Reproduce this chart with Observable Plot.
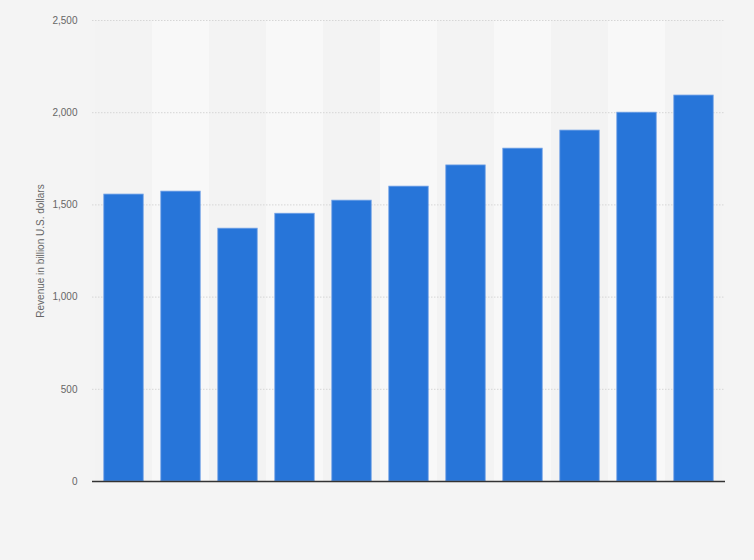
<!DOCTYPE html>
<html>
<head>
<meta charset="utf-8">
<script src="https://cdn.jsdelivr.net/npm/d3@7"></script>
<script src="https://cdn.jsdelivr.net/npm/@observablehq/plot@0.6"></script>
<style>
  html, body { margin: 0; padding: 0; background: #f4f4f4; }
  #chart { width: 754px; height: 560px; }
</style>
</head>
<body>
<div id="chart"></div>
<script>
// Categories (x-axis labels are not shown in the reference)
const categories = ["1", "2", "3", "4", "5", "6", "7", "8", "9", "10", "11"];
// Revenue in billion U.S. dollars
const revenue = [1556, 1572, 1371, 1452, 1523, 1599, 1714, 1805, 1903, 2000, 2093];
// Y-axis ticks
const yTicks = [0, 500, 1000, 1500, 2000, 2500];

const data = categories.map((c, i) => ({ cat: c, value: revenue[i], band: i % 2 }));

const chart = Plot.plot({
  width: 754,
  height: 560,
  marginLeft: 92,
  marginRight: 29,
  marginTop: 20,
  marginBottom: 79,
  style: { background: "#f4f4f4", fontFamily: "'Liberation Sans', Arial, sans-serif" },
  x: { domain: categories, padding: 0, axis: null },
  y: { domain: [0, 2500], ticks: yTicks },
  marks: [
    Plot.barY(data, {
      x: "cat", y1: 0, y2: 2500,
      fill: d => d.band ? "#f8f8f8" : "#f3f3f3"
    }),
    Plot.ruleY(yTicks.filter(t => t > 0), {
      stroke: "#d6d6d6", strokeWidth: 1, strokeDasharray: "1.5,1.5"
    }),
    Plot.barY(data, {
      x: "cat", y: "value",
      fill: "#2775d9",
      stroke: "#6fa0e6", strokeWidth: 0.8,
      insetLeft: 8.8, insetRight: 8.8
    }),
    Plot.ruleY([0], { stroke: "#333333", strokeWidth: 1.5 }),
    Plot.axisY({
      ticks: yTicks,
      tickSize: 0,
      tickPadding: 15,
      tickFormat: d3.format(","),
      fontSize: 10,
      fill: "#666666",
      label: "Revenue in billion U.S. dollars",
      labelAnchor: "center",
      labelArrow: "none",
      labelOffset: 56
    })
  ]
});

document.getElementById("chart").appendChild(chart);
</script>
</body>
</html>
